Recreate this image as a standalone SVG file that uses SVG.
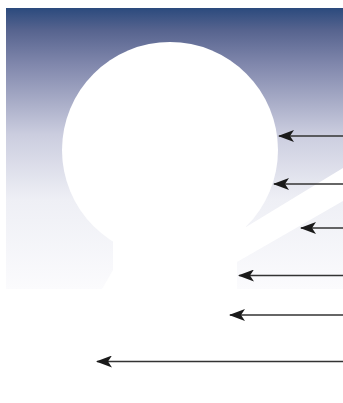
<svg xmlns="http://www.w3.org/2000/svg" width="343" height="403" viewBox="0 0 343 403">
<defs>
<linearGradient id="sky" gradientUnits="userSpaceOnUse" x1="0" y1="8" x2="0" y2="289">
<stop offset="0" stop-color="#2b4a7d"/>
<stop offset="0.08" stop-color="#57648f"/>
<stop offset="0.2" stop-color="#8087ac"/>
<stop offset="0.45" stop-color="#cbcddf"/>
<stop offset="0.68" stop-color="#eeeff5"/>
<stop offset="1" stop-color="#fbfbfd"/>
</linearGradient>
<marker id="ah" markerWidth="16" markerHeight="12" refX="1" refY="6" orient="auto" markerUnits="userSpaceOnUse">
<path d="M0,6 L16,0 L12,6 L16,12 Z" fill="#1a1a1a"/>
</marker>
<style>
.lead{stroke:#333;stroke-width:1.4;fill:none;marker-start:url(#ah)}
.w{fill:#fff}
</style>
</defs>
<rect width="343" height="403" fill="#fff"/>
<g id="background"><rect x="6" y="8" width="337" height="281" fill="url(#sky)"/></g>
<g id="shape">
<circle class="w" cx="170" cy="150" r="108"/>
<polygon class="w" points="113,200 240,200 246,227 343,168 343,201 237,262 237,289 102,289 113,270"/>
</g>
<g id="connectors">
<line class="lead" x1="279" y1="136" x2="343" y2="136"/>
<line class="lead" x1="274" y1="184" x2="343" y2="184"/>
<line class="lead" x1="301" y1="228" x2="343" y2="228"/>
<line class="lead" x1="239" y1="275.5" x2="343" y2="275.5"/>
<line class="lead" x1="230" y1="315" x2="343" y2="315"/>
<line class="lead" x1="97" y1="361.5" x2="343" y2="361.5"/>
</g>
</svg>
